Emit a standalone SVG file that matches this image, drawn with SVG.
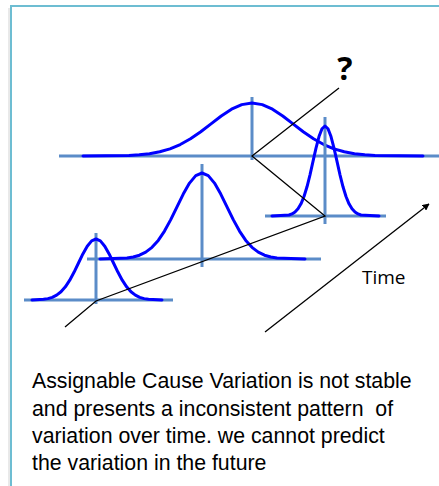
<svg xmlns="http://www.w3.org/2000/svg" width="439" height="486" viewBox="0 0 439 486">
  <style>
    .axis { stroke: #5b8cc8; stroke-width: 3; fill: none; }
    .curve { stroke: #0000ff; stroke-width: 3; fill: none; stroke-linejoin: round; stroke-linecap: round; }
    .conn { stroke: #000; stroke-width: 1.3; fill: none; }
    .para { font-family: "Liberation Sans", Arial, sans-serif; font-size: 21.3px; fill: #000; white-space: pre; }
    .lbl { font-family: "Open Sans", "Liberation Sans", sans-serif; fill: #000; }
  </style>
  <defs>
    <marker id="arrow" viewBox="0 0 10 10" refX="9" refY="5" markerWidth="7" markerHeight="7" markerUnits="userSpaceOnUse" orient="auto">
      <path d="M0,0 L10,5 L0,10 z" fill="#000"/>
    </marker>
  </defs>
  <rect width="439" height="486" fill="#fff"/>
  <line x1="9" y1="8" x2="9" y2="486" stroke="#e2e2e2" stroke-width="1.5"/>
  <rect id="frame" x="11" y="6" width="440" height="492" fill="none" stroke="#6dbdd2" stroke-width="2"/>

  <g id="dist-top">
    <line class="axis" x1="59" y1="156" x2="439" y2="156"/>
    <line class="axis" x1="252" y1="97" x2="252" y2="160"/>
    <path class="curve" d="M83,156 L129,155.41 139.25,154.79 149.5,153.67 159.75,151.78 170,148.83 180.25,144.54 190.5,138.79 200.75,131.74 211,123.86 221.25,116 231.5,109.23 241.75,104.63 252,103 262.25,104.63 272.5,109.23 282.75,116 293,123.86 303.25,131.74 313.5,138.79 323.75,144.54 334,148.83 344.25,151.78 354.5,153.67 364.75,154.79 375,155.41 423,156"/>
  </g>

  <g id="dist-right">
    <line class="axis" x1="265" y1="216" x2="386" y2="216"/>
    <line class="axis" x1="325" y1="117" x2="325" y2="224"/>
    <path class="curve" d="M272,216 L289,215 292,213.95 295,212.05 298,208.84 301,203.82 304,196.53 307,186.78 310,174.8 313,161.41 316,148.07 319,136.57 322,128.77 325,126 328,128.77 331,136.57 334,148.07 337,161.41 340,174.8 343,186.78 346,196.53 349,203.82 352,208.84 355,212.05 358,213.95 361,215 379,216"/>
  </g>

  <g id="dist-middle">
    <line class="axis" x1="87" y1="259" x2="321" y2="259"/>
    <line class="axis" x1="202" y1="164" x2="202" y2="267"/>
    <path class="curve" d="M100,259 L127,258.05 133.25,257.04 139.5,255.22 145.75,252.15 152,247.36 158.25,240.4 164.5,231.08 170.75,219.63 177,206.84 183.25,194.09 189.5,183.1 195.75,175.65 202,173 208.25,175.65 214.5,183.1 220.75,194.09 227,206.84 233.25,219.63 239.5,231.08 245.75,240.4 252,247.36 258.25,252.15 264.5,255.22 270.75,257.04 277,258.05 305,259"/>
  </g>

  <g id="dist-left">
    <line class="axis" x1="24" y1="300" x2="173" y2="300"/>
    <line class="axis" x1="96" y1="233" x2="96" y2="304"/>
    <path class="curve" d="M32,300 L43.5,299.32 47.88,298.61 52.25,297.32 56.63,295.14 61,291.75 65.38,286.81 69.75,280.19 74.13,272.07 78.5,263 82.88,253.96 87.25,246.17 91.63,240.88 96,239 100.38,240.88 104.75,246.17 109.13,253.96 113.5,263 117.88,272.07 122.25,280.19 126.63,286.81 131,291.75 135.38,295.14 139.75,297.32 144.13,298.61 148.5,299.32 162,300"/>
  </g>

  <g id="connectors">
    <polyline class="conn" points="65,327 96,301 325,216 252,156 339,88"/>
    <line class="conn" x1="265" y1="332" x2="429" y2="204" marker-end="url(#arrow)"/>
  </g>

  <text class="lbl" x="345" y="80" font-size="32" font-weight="bold" text-anchor="middle">?</text>
  <text class="lbl" x="362" y="284" font-size="19">Time</text>

  <g id="caption">
    <text class="para" x="32" y="388">Assignable Cause Variation is not stable</text>
    <text class="para" x="32" y="416" xml:space="preserve">and presents a inconsistent pattern  of</text>
    <text class="para" x="32" y="443">variation over time. we cannot predict</text>
    <text class="para" x="32" y="470">the variation in the future</text>
  </g>
</svg>
